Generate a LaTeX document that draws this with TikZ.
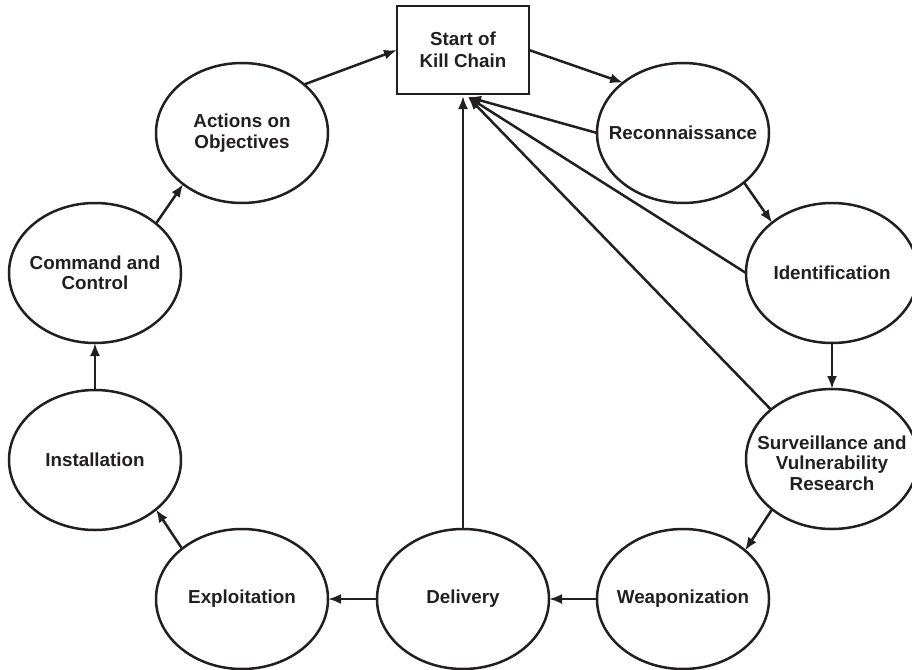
\documentclass[tikz,border=0pt]{standalone}
\usepackage{fontspec}
\setmainfont{Liberation Sans}
\usetikzlibrary{shapes.geometric,arrows.meta}
\definecolor{ink}{HTML}{231F20}
\begin{document}
\begin{tikzpicture}[x=1pt,y=-1pt,
  every node/.style={text=ink,font=\bfseries\fontsize{18.8}{20.5}\selectfont,align=center},
  stage/.style={ellipse,draw=ink,line width=2.5pt,minimum width=172pt,minimum height=140pt,inner sep=0pt,outer sep=0pt},
  startbox/.style={rectangle,draw=ink,line width=2.5pt,minimum width=132pt,minimum height=88pt,inner sep=0pt,outer sep=0pt},
  link/.style={draw=ink,line width=2.5pt,-{Latex[length=13pt,width=10pt]}}]
\useasboundingbox (0,0) rectangle (912,669);
\node[startbox] (start) at (463,50) {Start of\\[1.5pt]Kill Chain};
\node[stage] (act) at (242,133) {};
\node[stage] (rec) at (683,133) {};
\node[stage] (ide) at (832,273) {};
\node[stage] (sur) at (832,459) {};
\node[stage] (wea) at (683,599) {};
\node[stage] (del) at (463,599) {};
\node[stage] (exp) at (242,599) {};
\node[stage] (ins) at (95,460) {};
\node[stage] (cc) at (95,273) {};
\node (act-t) at (act) {Actions on\\Objectives};
\node (rec-t) at (rec) {Reconnaissance};
\node (ide-t) at (ide) {Identification};
\node (sur-t) at ([yshift=-4pt]sur.center) {Surveillance and\\Vulnerability\\Research};
\node (wea-t) at (wea) {Weaponization};
\node (del-t) at (del) {Delivery};
\node (exp-t) at (exp) {Exploitation};
\node (ins-t) at (ins) {Installation};
\node (cc-t) at (cc) {Command and\\Control};
\coordinate (conv) at (468,97);
\coordinate (dtop) at (463,96);
% main cycle
\draw[link] (act.38) -- (start.west);
\draw[link] (start.east) -- (rec.140);
\draw[link] (rec.-39) -- (ide.140);
\draw[link] (ide.south) -- (sur.north);
\draw[link] (sur.220) -- (wea.38);
\draw[link] (wea.west) -- (del.east);
\draw[link] (del.west) -- (exp.east);
\draw[link] (exp.140) -- (ins.-39);
\draw[link] (ins.north) -- (cc.south);
\draw[link] (cc.39) -- (act.221);
% returns to start
\draw[link] (rec.west) -- (conv);
\draw[link] (ide.west) -- (conv);
\draw[link] (sur.141) -- (conv);
\draw[link] (del.north) -- (dtop);
\end{tikzpicture}
\end{document}
